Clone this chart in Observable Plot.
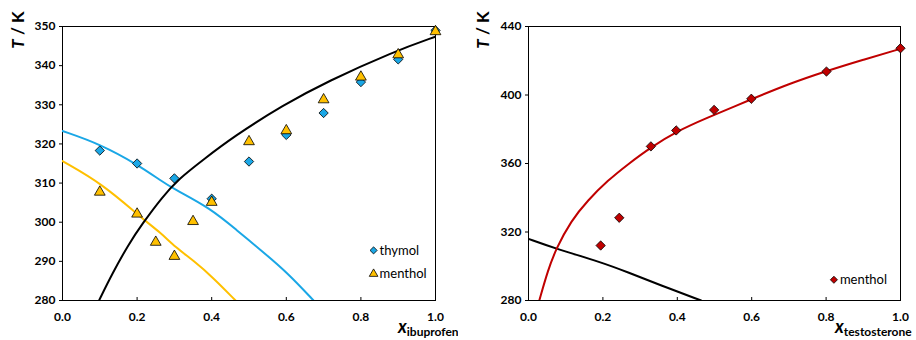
<!DOCTYPE html>
<html>
<head>
<meta charset="utf-8">
<script src="https://cdn.jsdelivr.net/npm/d3@7"></script>
<script src="https://cdn.jsdelivr.net/npm/@observablehq/plot@0.6"></script>
<style>
  body { margin: 0; background: #fff; font-family: Lato, "Open Sans", sans-serif; }
  #wrap { display: flex; width: 916px; height: 340px; }
  #wrap svg { overflow: hidden; }
</style>
</head>
<body>
<div id="wrap"></div>
<script>
// ---- Left panel: ibuprofen ----
const ibuThymolX = [0.1, 0.2, 0.3, 0.4, 0.5, 0.6, 0.7, 0.8, 0.9, 1.0];
const ibuThymolT = [318.3, 315.0, 311.2, 306.0, 315.5, 322.3, 327.9, 335.8, 341.6, 349.0];
const ibuMentholX = [0.1, 0.2, 0.25, 0.3, 0.35, 0.4, 0.5, 0.6, 0.7, 0.8, 0.9, 1.0];
const ibuMentholT = [307.7, 302.1, 294.9, 291.3, 300.2, 305.1, 320.6, 323.4, 331.3, 337.1, 342.8, 348.7];
const ibuCurveX = [0.098, 0.133, 0.178, 0.214, 0.267, 0.312, 0.375, 0.459, 0.593, 0.709, 0.888, 1.0];
const ibuCurveT = [280, 286.8, 294.5, 299.6, 306.4, 311.1, 315.8, 321.9, 330.0, 335.9, 343.6, 347.4];
const thymolCurveX = [0, 0.1, 0.205, 0.262, 0.298, 0.396, 0.468, 0.53, 0.602, 0.673];
const thymolCurveT = [323.3, 320.0, 314.5, 310.7, 308.5, 303.6, 297.9, 293.0, 287.2, 280];
const mentholCurveX = [0, 0.107, 0.214, 0.262, 0.303, 0.351, 0.402, 0.464];
const mentholCurveT = [315.6, 309.8, 300.9, 297.4, 293.6, 290.2, 286.0, 280];
const leftYTicks = [280, 290, 300, 310, 320, 330, 340, 350];

// ---- Right panel: testosterone ----
const testoMentholX = [0.194, 0.244, 0.329, 0.397, 0.499, 0.599, 0.801, 1.0];
const testoMentholT = [312.1, 328.3, 370.0, 379.3, 391.3, 397.8, 413.7, 427.3];
const testoCurveX = [0.029, 0.052, 0.074, 0.115, 0.159, 0.213, 0.267, 0.329, 0.401, 0.473, 0.599, 0.7, 0.801, 0.9, 1.0];
const testoCurveT = [280, 297.5, 310.2, 326.7, 338.4, 350.1, 359.5, 369.5, 379.0, 386.0, 397.5, 406.5, 414.0, 420.6, 427.0];
const menthol2CurveX = [0, 0.074, 0.195, 0.267, 0.356, 0.464];
const menthol2CurveT = [316.0, 310.2, 302.4, 296.5, 288.8, 280];
const rightYTicks = [280, 320, 360, 400, 440];

const xTicks = [0, 0.2, 0.4, 0.6, 0.8, 1.0];
const seriesNames = ["thymol", "menthol"];

const zip = (xs, ys) => xs.map((x, i) => ({x, y: ys[i]}));

const BLUE = "#1aa7e6", GOLD = "#ffc000", RED = "#c00000";

function axes(yTicks) {
  return [
    Plot.axisY(yTicks, {tickSize: 3, tickPadding: 4, fontSize: 12, fontWeight: "bold", label: null, tickFormat: d => d}),
    Plot.axisX(xTicks, {tickSize: -3, tickPadding: 15, fontSize: 12, fontWeight: "bold", label: null, tickFormat: d3.format(".1f")}),
    Plot.frame({stroke: "black", strokeWidth: 1})
  ];
}

const lineOpts = (stroke) => ({x: "x", y: "y", stroke, strokeWidth: 2, curve: "basis", clip: true});

const left = Plot.plot({
  width: 458, height: 340,
  marginLeft: 62, marginRight: 23, marginTop: 26, marginBottom: 40,
  style: {fontFamily: "Lato, sans-serif", color: "black"},
  x: {domain: [0, 1]},
  y: {domain: [280, 350]},
  marks: [
    ...axes(leftYTicks),
    Plot.line(zip(thymolCurveX, thymolCurveT), lineOpts(BLUE)),
    Plot.line(zip(mentholCurveX, mentholCurveT), lineOpts(GOLD)),
    Plot.line(zip(ibuCurveX, ibuCurveT), lineOpts("black")),
    Plot.dot(zip(ibuThymolX, ibuThymolT), {x: "x", y: "y", symbol: "diamond2", r: 4.2, fill: BLUE, stroke: "black", strokeWidth: 0.8}),
    Plot.dot(zip(ibuMentholX, ibuMentholT), {x: "x", y: "y", symbol: "triangle", r: 4, fill: GOLD, stroke: "black", strokeWidth: 0.8}),
    // legend
    Plot.dot([seriesNames[0]], {x: 0.834, y: 292.8, symbol: "diamond2", r: 3.2, fill: BLUE, stroke: "black", strokeWidth: 0.8}),
    Plot.dot([seriesNames[1]], {x: 0.834, y: 286.8, symbol: "triangle", r: 3.2, fill: GOLD, stroke: "black", strokeWidth: 0.8}),
    Plot.text([seriesNames[0]], {x: 0.834, y: 292.8, text: d => d, dx: 6, textAnchor: "start", fontSize: 13}),
    Plot.text([seriesNames[1]], {x: 0.834, y: 286.8, text: d => d, dx: 6, textAnchor: "start", fontSize: 13})
  ]
});

const right = Plot.plot({
  width: 458, height: 340,
  marginLeft: 70, marginRight: 16, marginTop: 26, marginBottom: 40,
  style: {fontFamily: "Lato, sans-serif", color: "black"},
  x: {domain: [0, 1]},
  y: {domain: [280, 440]},
  marks: [
    ...axes(rightYTicks),
    Plot.line(zip(menthol2CurveX, menthol2CurveT), lineOpts("black")),
    Plot.line(zip(testoCurveX, testoCurveT), lineOpts(RED)),
    Plot.dot(zip(testoMentholX, testoMentholT), {x: "x", y: "y", symbol: "diamond2", r: 4.2, fill: RED, stroke: "black", strokeWidth: 0.8}),
    Plot.dot([seriesNames[1]], {x: 0.821, y: 292.1, symbol: "diamond2", r: 3.2, fill: RED, stroke: "black", strokeWidth: 0.8}),
    Plot.text([seriesNames[1]], {x: 0.821, y: 292.1, text: d => d, dx: 6, textAnchor: "start", fontSize: 13})
  ]
});

function addLabels(svg, yLabX, xLabX, sub) {
  const s = d3.select(svg);
  const t = s.append("text")
    .attr("transform", `translate(${yLabX},30) rotate(-90)`)
    .attr("text-anchor", "middle")
    .attr("font-size", 17).attr("font-weight", "bold").attr("font-family", "Lato, sans-serif");
  t.append("tspan").attr("font-style", "italic").text("T");
  t.append("tspan").text(" / K");
  const x = s.append("text")
    .attr("x", xLabX).attr("y", 333)
    .attr("text-anchor", "start")
    .attr("font-weight", "bold").attr("font-family", "Lato, sans-serif");
  x.append("tspan").attr("font-size", 18).attr("font-style", "italic").text("x");
  x.append("tspan").attr("font-size", 12).attr("dy", 3).text(sub);
}

addLabels(left, 24, 398, "ibuprofen");
addLabels(right, 31, 377, "testosterone");

document.getElementById("wrap").append(left, right);
</script>
</body>
</html>
